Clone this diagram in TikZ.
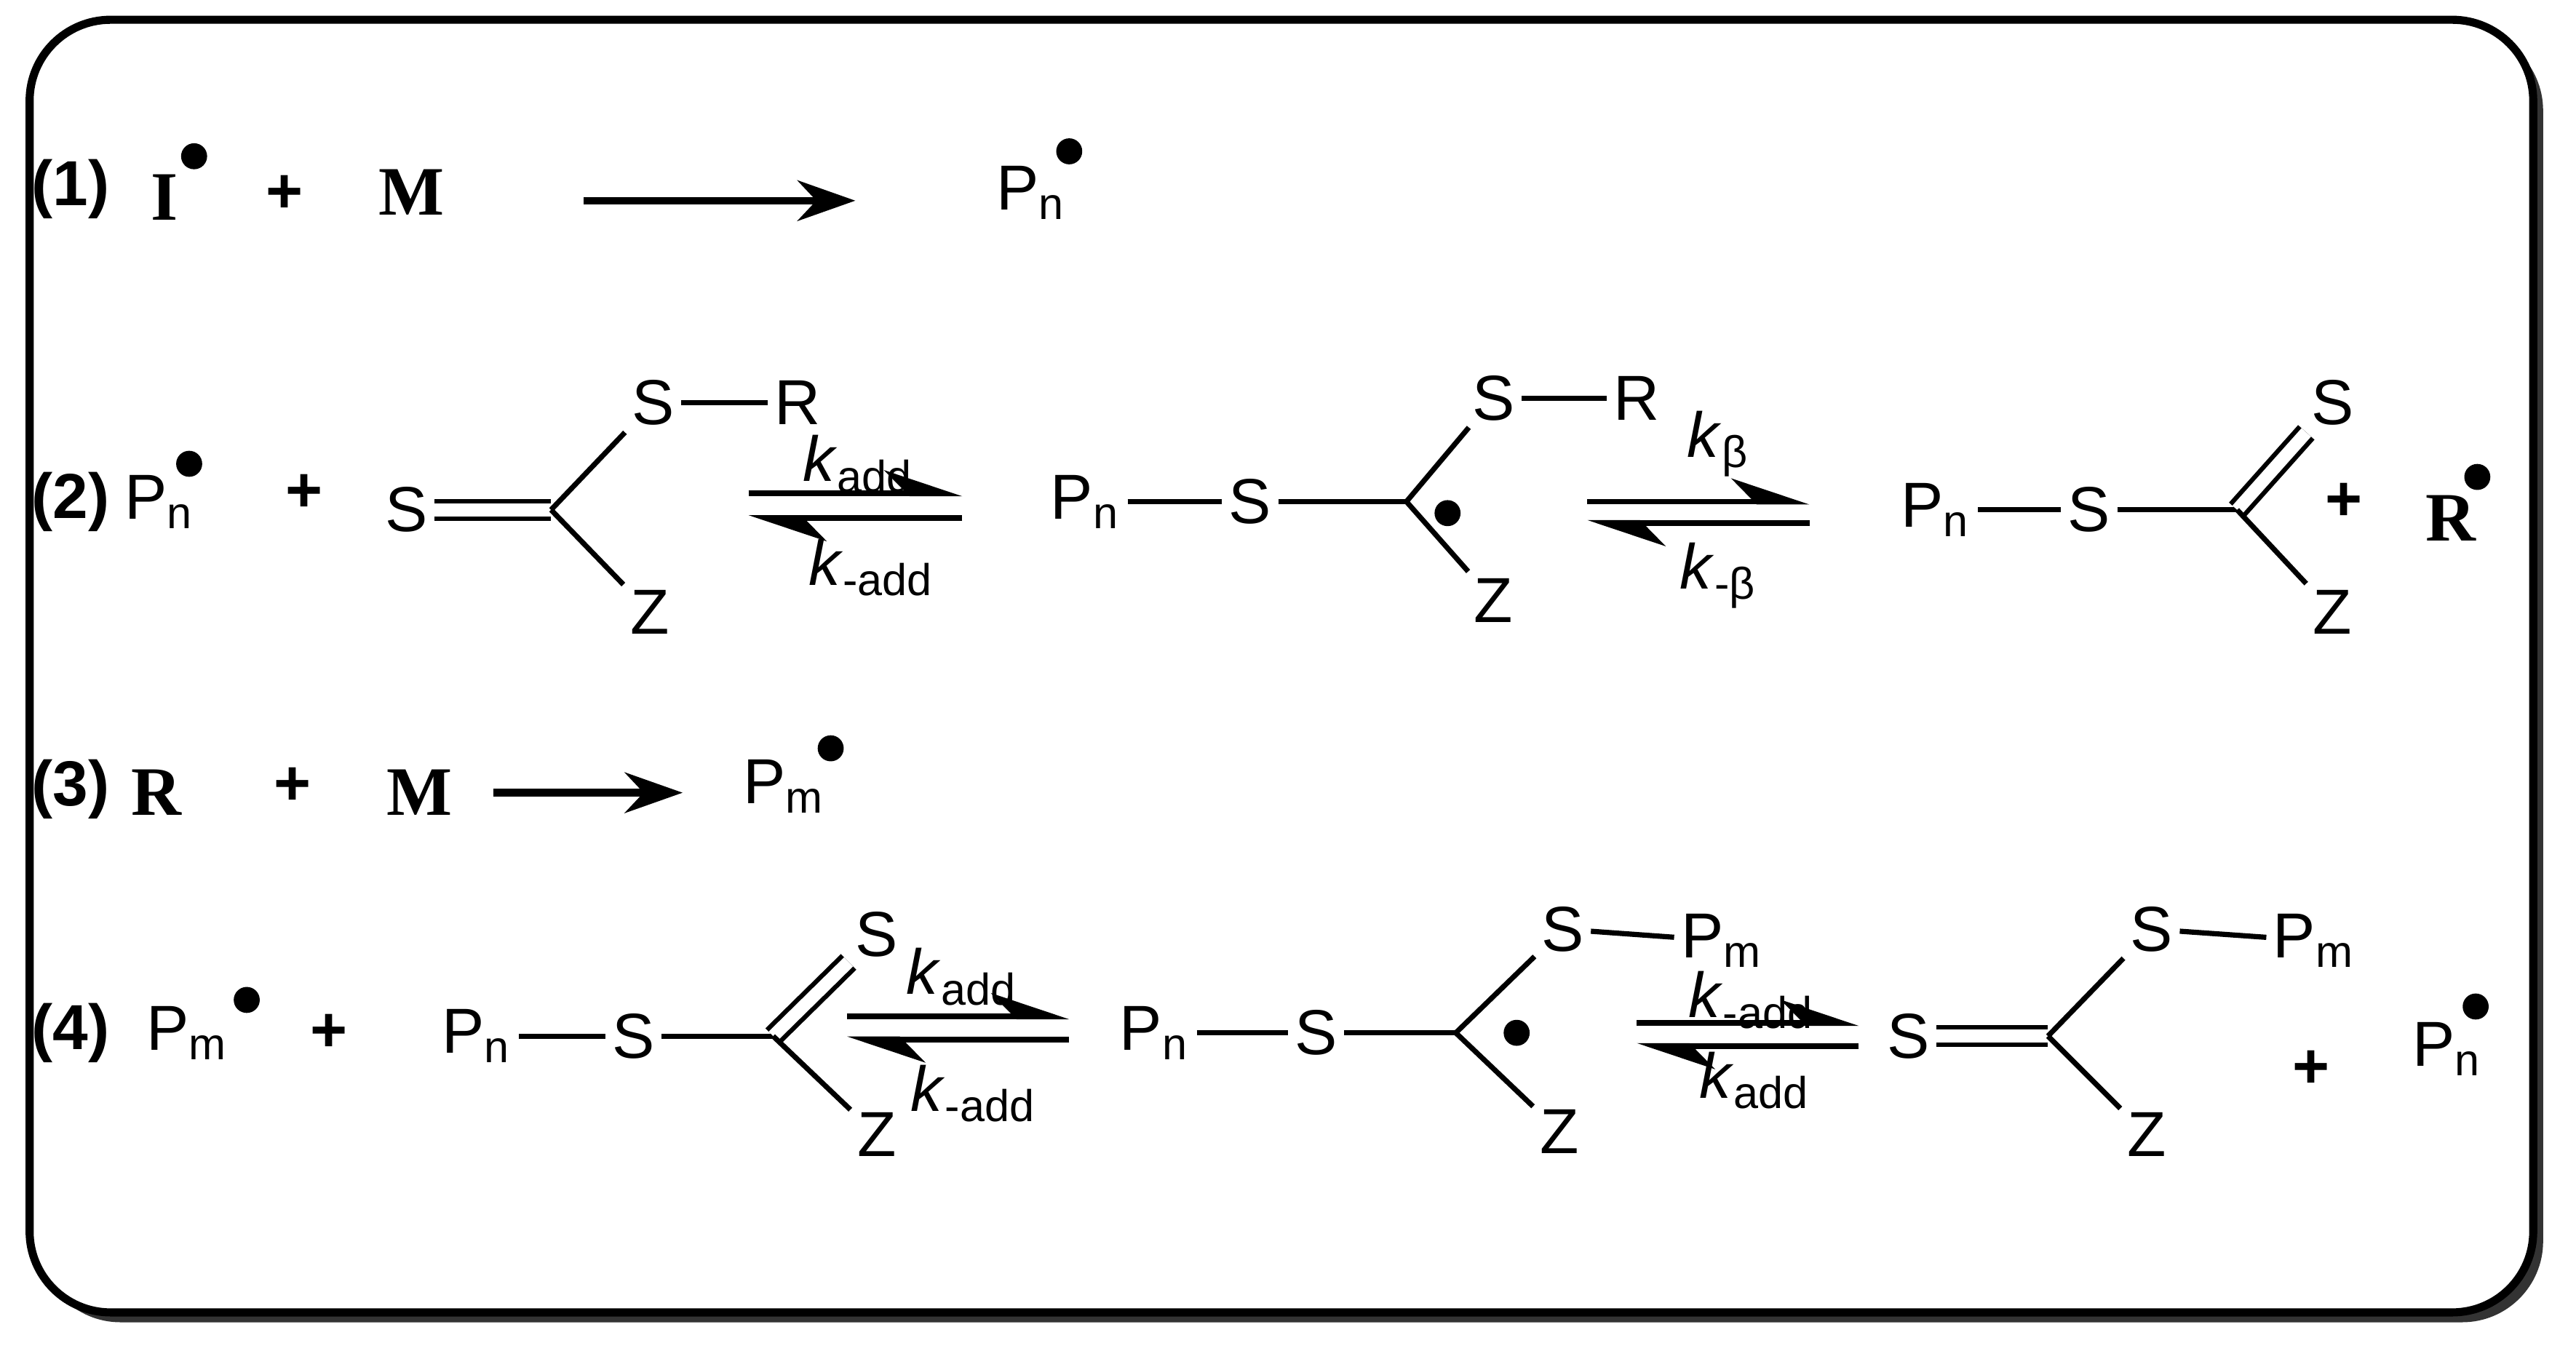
\documentclass[tikz,border=0pt]{standalone}
\usepackage{fontspec}
\setmainfont{Liberation Serif}
\newfontfamily\arial{Liberation Sans}
\usetikzlibrary{arrows.meta}
\begin{document}
\begin{tikzpicture}[x=0.01cm,y=-0.01cm,
 atm/.style={font=\arial\fontsize{11}{13}\selectfont,inner sep=1pt},
 rm/.style={font=\fontsize{12}{14}\selectfont\bfseries,inner sep=1pt},
 lbl/.style={font=\arial\bfseries\fontsize{11}{13}\selectfont,inner sep=1pt},
 bd/.style={line width=0.9pt},
 dbd/.style={line width=0.8pt,double,double distance=2.2pt},
 rx/.style={line width=1.3pt,-{Stealth[length=10pt,width=7pt]}},
 hf/.style={line width=1pt,-{Stealth[harpoon,length=12pt,width=8pt]}},
 kl/.style={font=\arial\fontsize{11}{13}\selectfont,inner sep=0pt},
 rad/.style={circle,fill,inner sep=0pt,minimum size=4.5pt}]
\useasboundingbox (0,0) rectangle (1566,826);
\fill[black!80,rounded corners=14pt] (24,18) rectangle (1546,804);
\draw[line width=1.4pt,fill=white,rounded corners=14pt] (18,12) rectangle (1540,798);
% Row 1
\node[lbl] (l1) at (43,115) {(1)};
\node[rm] (I) at (100,120) {I}; \node[rad] (Id) at (118,95) {};
\node[lbl] (p1) at (173,118) {+};
\node[rm] (M1) at (250,117) {M};
\coordinate (a1s) at (355,122); \coordinate (a1e) at (520,122);
\draw[rx] (a1s) -- (a1e);
\node[atm] (Pn1) at (627,117) {P\textsubscript{n}}; \node[rad] (Pn1d) at (650,92) {};
% Row 2
\node[lbl] (l2) at (43,305) {(2)};
\node[atm] (Pn2) at (97,305) {P\textsubscript{n}}; \node[rad] at (115,282) {};
\node[lbl] (p2) at (185,300) {+};
\node[atm] (S2a) at (247,310) {S};
\coordinate (C2a) at (335,310);
\node[atm] (S2b) at (397,245) {S};
\node[atm] (R2) at (485,245) {R};
\node[atm] (Z2a) at (395,372) {Z};
\draw[dbd] (S2a) -- (C2a);
\draw[bd] (C2a) -- (S2b); \draw[bd] (S2b) -- (R2); \draw[bd] (C2a) -- (Z2a);
\draw[hf] (455,300) -- (585,300); \draw[hf] (585,315) -- (455,315);
\node[kl] (k1) at (522,282) {\textit{k}\textsubscript{add}};
\node[kl] (k2) at (530,345) {\textit{k}\textsubscript{-add}};
\node[atm] (Pn2b) at (660,305) {P\textsubscript{n}};
\node[atm] (S2c) at (760,305) {S};
\coordinate (C2b) at (855,305);
\node[atm] (S2d) at (908,242) {S};
\node[atm] (R2b) at (995,242) {R};
\node[atm] (Z2b) at (908,365) {Z};
\node[rad] at (880,312) {};
\draw[bd] (Pn2b) -- (S2c); \draw[bd] (S2c) -- (C2b); \draw[bd] (C2b) -- (S2d);
\draw[bd] (S2d) -- (R2b); \draw[bd] (C2b) -- (Z2b);
\draw[hf] (965,305) -- (1100,305); \draw[hf] (1100,318) -- (965,318);
\node[kl] (k3) at (1045,270) {\textit{k}\textsubscript{β}};
\node[kl] (k4) at (1045,350) {\textit{k}\textsubscript{-β}};
\node[atm] (Pn2c) at (1177,310) {P\textsubscript{n}};
\node[atm] (S2e) at (1270,310) {S};
\coordinate (C2c) at (1360,310);
\node[atm] (S2f) at (1418,245) {S};
\node[atm] (Z2c) at (1418,372) {Z};
\draw[bd] (Pn2c) -- (S2e); \draw[bd] (S2e) -- (C2c);
\draw[dbd] (C2c) -- (S2f); \draw[bd] (C2c) -- (Z2c);
\node[lbl] (p3) at (1425,305) {+};
\node[rm] (R2c) at (1490,315) {R}; \node[rad] at (1506,290) {};
% Row 3
\node[lbl] (l3) at (43,480) {(3)};
\node[rm] (R3) at (95,482) {R};
\node[lbl] (p4) at (178,478) {+};
\node[rm] (M3) at (255,482) {M};
\coordinate (a3s) at (300,482); \coordinate (a3e) at (415,482);
\draw[rx] (a3s) -- (a3e);
\node[atm] (Pm3) at (477,478) {P\textsubscript{m}}; \node[rad] at (505,455) {};
% Row 4
\node[lbl] (l4) at (43,628) {(4)};
\node[atm] (Pm4) at (114,628) {P\textsubscript{m}}; \node[rad] at (150,608) {};
\node[lbl] (p5) at (200,628) {+};
\node[atm] (Pn4) at (290,630) {P\textsubscript{n}};
\node[atm] (S4a) at (385,630) {S};
\coordinate (C4a) at (470,630);
\node[atm] (S4b) at (533,568) {S};
\node[atm] (Z4a) at (533,690) {Z};
\draw[bd] (Pn4) -- (S4a); \draw[bd] (S4a) -- (C4a);
\draw[dbd] (C4a) -- (S4b); \draw[bd] (C4a) -- (Z4a);
\draw[hf] (515,618) -- (650,618); \draw[hf] (650,632) -- (515,632);
\node[kl] (k5) at (585,594) {\textit{k}\textsubscript{add}};
\node[kl] (k6) at (592,665) {\textit{k}\textsubscript{-add}};
\node[atm] (Pn4b) at (702,628) {P\textsubscript{n}};
\node[atm] (S4c) at (800,628) {S};
\coordinate (C4b) at (885,628);
\node[atm] (S4d) at (950,565) {S};
\node[atm] (Pm4b) at (1047,572) {P\textsubscript{m}};
\node[atm] (Z4b) at (948,688) {Z};
\node[rad] at (922,628) {};
\draw[bd] (Pn4b) -- (S4c); \draw[bd] (S4c) -- (C4b); \draw[bd] (C4b) -- (S4d);
\draw[bd] (S4d) -- (Pm4b); \draw[bd] (C4b) -- (Z4b);
\draw[hf] (995,622) -- (1130,622); \draw[hf] (1130,636) -- (995,636);
\node[kl] (k7) at (1065,608) {\textit{k}\textsubscript{-add}};
\node[kl] (k8) at (1067,657) {\textit{k}\textsubscript{add}};
\node[atm] (S4e) at (1160,630) {S};
\coordinate (C4c) at (1245,630);
\node[atm] (S4f) at (1308,565) {S};
\node[atm] (Pm4c) at (1407,572) {P\textsubscript{m}};
\node[atm] (Z4c) at (1305,690) {Z};
\draw[dbd] (S4e) -- (C4c); \draw[bd] (C4c) -- (S4f);
\draw[bd] (S4f) -- (Pm4c); \draw[bd] (C4c) -- (Z4c);
\node[lbl] (p6) at (1405,650) {+};
\node[atm] (Pn4c) at (1488,638) {P\textsubscript{n}}; \node[rad] at (1505,612) {};
\end{tikzpicture}
\end{document}
